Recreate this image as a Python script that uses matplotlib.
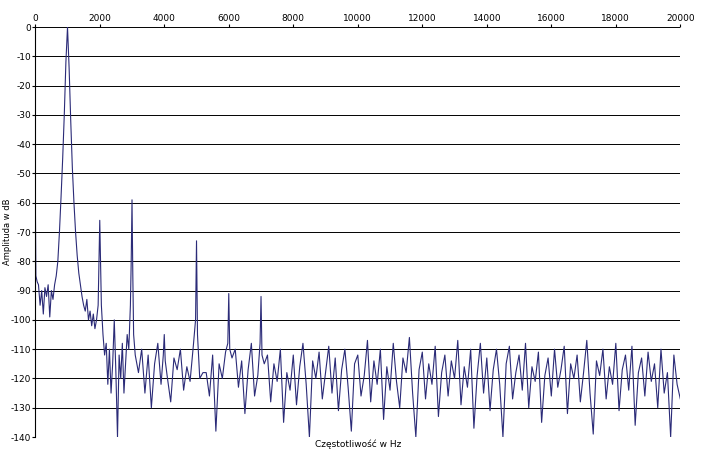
import matplotlib
matplotlib.use("Agg")
import matplotlib.pyplot as plt
import numpy as np

plt.rcParams["axes.unicode_minus"] = False

# low-frequency part (Hz, dB)
f_low = [0,20,60,100,150,200,250,300,350,400,450,500,550,600,650,700,750,800,850,900,950,1000,
         1050,1100,1150,1200,1250,1300,1350,1400,1450,1500,1550,1600,1650,1700,1750,1800,1850,1900,
         1950,1975,2000,2025,2050,2100,2150,2200,2250,2300,2350,2400,2450,2500,2550,2600,2650,2700,2750,2800,
         2850,2900,2950,2975,3000,3025,3050,3100]
a_low = [-55,-85,-87,-88,-95,-90,-98,-89,-92,-88,-99,-90,-93,-88,-85,-80,-70,-58,-45,-30,-12,0,
         -14,-32,-48,-60,-70,-78,-84,-88,-92,-95,-97,-93,-100,-97,-102,-98,-103,-100,
         -95,-80,-66,-80,-95,-105,-112,-108,-122,-110,-125,-115,-100,-118,-140,-112,-120,-108,-125,-115,
         -105,-110,-95,-80,-59,-85,-105,-112]
# noise floor from 3200 Hz in 100 Hz steps
a_noise = [-118,-110,-125,-112,-130,-115,-108,-122,-116,-120,   # 3200-4100
           -128,-113,-117,-110,-124,-116,-121,-109,-115,-120,   # 4200-5100
           -118,-118,-126,-112,-138,-115,-120,-111,-125,-113,   # 5200-6100
           -110,-123,-114,-132,-117,-108,-126,-119,-113,-115,   # 6200-7100
           -112,-128,-115,-121,-110,-135,-118,-124,-112,-129,  # 7200-8100
           -116,-108,-122,-140,-114,-120,-111,-127,-118,-109,  # 8200-9100
           -125,-113,-131,-117,-110,-123,-138,-115,-112,-126,  # 9200-10100
           -119,-107,-128,-114,-122,-110,-134,-116,-124,-108,  # 10200-11100
           -121,-130,-113,-118,-106,-125,-140,-117,-111,-127,  # 11200-12100
           -115,-122,-109,-133,-118,-112,-126,-114,-120,-107,  # 12200-13100
           -129,-116,-123,-110,-137,-119,-108,-125,-113,-131,  # 13200-14100
           -117,-110,-122,-140,-115,-109,-127,-118,-112,-124,  # 14200-15100
           -108,-130,-116,-121,-111,-135,-119,-113,-126,-110,  # 15200-16100
           -123,-117,-109,-132,-115,-120,-112,-128,-118,-107,  # 16200-17100
           -125,-139,-114,-119,-110,-127,-116,-122,-108,-131,  # 17200-18100
           -117,-112,-124,-109,-136,-118,-113,-126,-111,-121,  # 18200-19100
           -115,-130,-110,-125,-118,-140,-112,-122,-127]       # 19200-20000

# narrow harmonic peaks (Hz, dB)
f_peaks = [3970,4000,4030, 4970,5000,5030, 5970,6000,6030, 6970,7000,7030]
a_peaks = [-112,-105,-114, -100,-73,-105, -108,-91,-110, -108,-92,-112]

f_noise = np.arange(3200, 20001, 100)[:len(a_noise)]
keep = ~np.isin(f_noise, [4000, 5000, 6000, 7000])
freq = np.concatenate([f_low, f_noise[keep], f_peaks])
amp = np.concatenate([a_low, np.array(a_noise)[keep], a_peaks])
order = np.argsort(freq, kind="stable")
freq, amp = freq[order], amp[order]

fig = plt.figure(figsize=(7.05, 4.51), dpi=100)
ax = fig.add_axes([0.05, 0.031, 0.915, 0.909])
ax.plot(freq, amp, color="#2b2b78", lw=0.8)
ax.set_xlim(0, 20000)
ax.set_ylim(-140, 0)
ax.set_xticks(np.arange(0, 20001, 2000))
ax.set_yticks(np.arange(-140, 1, 10))
ax.xaxis.tick_top()
ax.tick_params(labelsize=6.5, length=2, pad=1)
ax.grid(axis="y", color="black", lw=0.7)
for s in ["top", "right", "bottom"]:
    ax.spines[s].set_visible(False)
ax.set_ylabel("Amplituda w dB", fontsize=6)
ax.yaxis.set_label_coords(-0.036, 0.5)
ax.text(0.5, -0.005, "Częstotliwość w Hz", transform=ax.transAxes, ha="center", va="top", fontsize=6.5)
fig.savefig("out.png", dpi=100)
